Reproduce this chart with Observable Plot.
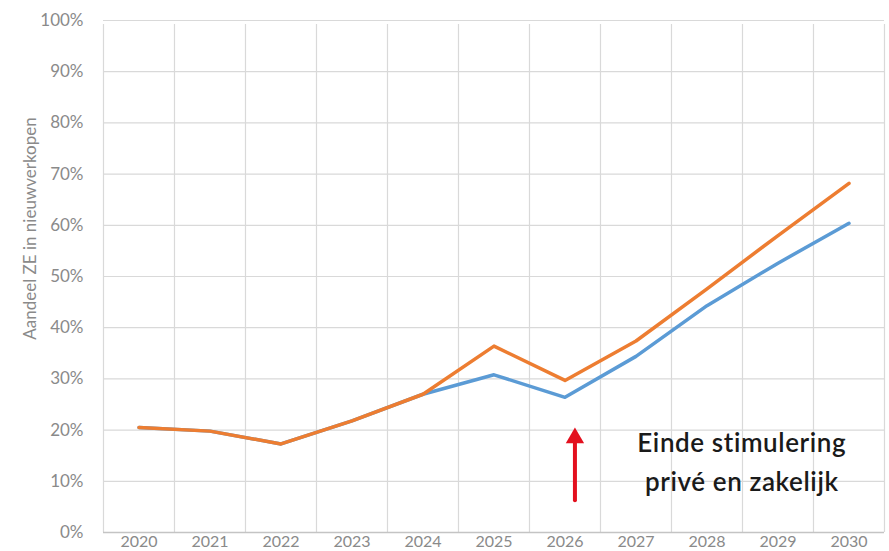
<!DOCTYPE html>
<html>
<head>
<meta charset="utf-8">
<script src="https://cdn.jsdelivr.net/npm/d3@7"></script>
<script src="https://cdn.jsdelivr.net/npm/@observablehq/plot@0.6"></script>
<style>
  html, body { margin: 0; padding: 0; background: #fff; }
  #chart svg { display: block; }
</style>
</head>
<body>
<div id="chart"></div>
<script>
const years = [2020, 2021, 2022, 2023, 2024, 2025, 2026, 2027, 2028, 2029, 2030];
const blueSeries = [20.5, 19.8, 17.3, 21.8, 27.0, 30.8, 26.4, 34.4, 44.3, 52.6, 60.4];
const orangeSeries = [20.5, 19.8, 17.3, 21.8, 27.0, 36.4, 29.7, 37.4, 47.6, 58.0, 68.2];
const yTicks = [0, 10, 20, 30, 40, 50, 60, 70, 80, 90, 100];
const annotationLines = ["Einde stimulering", "privé en zakelijk"];
const arrowAt = {year: 2026.14, from: 6.2, to: 20.5};
const textAt = {year: 2028.49, y: 8.2};

const blueData = years.map((y, i) => ({year: y, v: blueSeries[i] / 100}));
const orangeData = years.map((y, i) => ({year: y, v: orangeSeries[i] / 100}));
const boundaries = d3.range(years[0] - 0.5, years[years.length - 1] + 1, 1);

const font = "Lato, 'Open Sans', sans-serif";

const chart = Plot.plot({
  width: 889,
  height: 551,
  marginLeft: 103,
  marginRight: 5,
  marginTop: 20,
  marginBottom: 19,
  style: {fontFamily: font, background: "#fff"},
  x: {domain: [years[0] - 0.5, years[years.length - 1] + 0.5]},
  y: {domain: [0, 1]},
  marks: [
    Plot.ruleY(yTicks.map(d => d / 100), {stroke: "#d9d9d9", strokeWidth: 1.2}),
    Plot.ruleX(boundaries, {stroke: "#d9d9d9", strokeWidth: 1.2, y1: 0, y2: 1, insetBottom: -4}),
    Plot.ruleY([0], {stroke: "#c4c4c4", strokeWidth: 1.4}),
    Plot.axisY(yTicks.map(d => d / 100), {
      tickSize: 0, tickPadding: 20, tickFormat: d3.format(".0%"),
      fontSize: 17, fill: "#8a8a8a", label: null
    }),
    Plot.axisX(years, {
      tickSize: 0, tickPadding: 3, tickFormat: d => String(d),
      fontSize: 16, fill: "#8a8a8a", label: null
    }),
    Plot.text(["Aandeel ZE in nieuwverkopen"], {
      frameAnchor: "left", rotate: -90, dx: -73, dy: -48,
      fontSize: 17, fill: "#8a8a8a", textAnchor: "middle"
    }),
    Plot.line(blueData, {x: "year", y: "v", stroke: "#5B9BD5", strokeWidth: 3.5, strokeLinejoin: "round", strokeLinecap: "round"}),
    Plot.line(orangeData, {x: "year", y: "v", stroke: "#ED7D31", strokeWidth: 3.5, strokeLinejoin: "round", strokeLinecap: "round"}),
    Plot.ruleX([arrowAt], {
      x: "year", y1: d => d.from / 100, y2: d => d.to / 100 - 0.02,
      stroke: "#e3101e", strokeWidth: 4, strokeLinecap: "round"
    }),
    Plot.dot([arrowAt], {
      x: "year", y: d => d.to / 100, dy: 10.5,
      symbol: "triangle", r: 6.8, fill: "#e3101e", stroke: "none"
    }),
    Plot.text([annotationLines.join("\n")], {
      x: () => textAt.year, y: () => textAt.y / 100,
      lineAnchor: "bottom", lineHeight: 1.5, textAnchor: "middle",
      fontSize: 26, fontWeight: 600, fill: "#1a1a1a"
    })
  ]
});
d3.select(chart).selectAll("text")
  .filter(function() { return this.textContent.includes("stimulering"); })
  .style("letter-spacing", "0.6px");
document.getElementById("chart").append(chart);
</script>
</body>
</html>
